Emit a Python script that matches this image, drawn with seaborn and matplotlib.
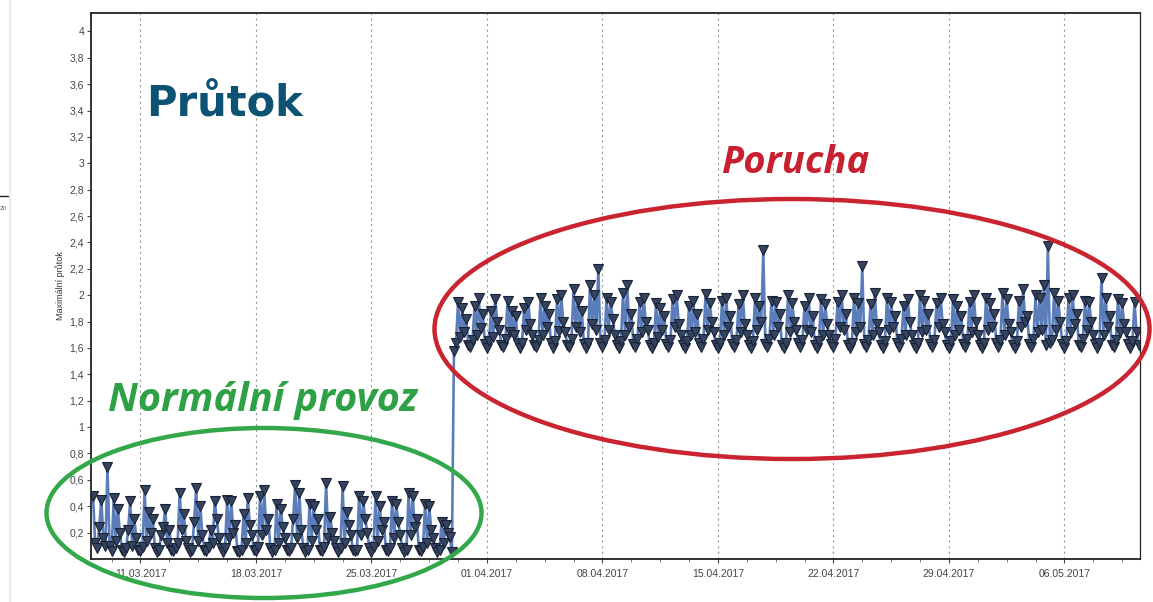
import matplotlib
matplotlib.use("Agg")
import matplotlib.pyplot as plt
import matplotlib.dates as mdates
from matplotlib.patches import Ellipse
from matplotlib.ticker import FuncFormatter, FixedLocator
import numpy as np
import pandas as pd
import seaborn as sns

# ---------------- data (3-hour samples) ----------------
normal_start = "2017-03-08 03:00"
normal_flow = [
    0.48, 0.12, 0.08, 0.24, 0.45, 0.16, 0.10,
    0.70, 0.10, 0.06, 0.46, 0.14, 0.38, 0.20, 0.07,
    0.05, 0.08, 0.22, 0.44, 0.10, 0.30, 0.16, 0.07,
    0.06, 0.09, 0.52, 0.14, 0.36, 0.20, 0.30, 0.08,
    0.05, 0.07, 0.18, 0.24, 0.38, 0.12, 0.22, 0.07,
    0.06, 0.08, 0.12, 0.50, 0.22, 0.34, 0.14, 0.08,
    0.05, 0.07, 0.28, 0.54, 0.14, 0.40, 0.18, 0.07,
    0.06, 0.09, 0.22, 0.12, 0.44, 0.30, 0.16, 0.08,
    0.05, 0.08, 0.45, 0.16, 0.44, 0.20, 0.26, 0.06,
    0.05, 0.07, 0.34, 0.12, 0.46, 0.26, 0.18, 0.07,
    0.06, 0.09, 0.48, 0.18, 0.52, 0.22, 0.30, 0.08,
    0.05, 0.07, 0.42, 0.12, 0.38, 0.24, 0.16, 0.07,
    0.06, 0.08, 0.30, 0.56, 0.16, 0.50, 0.22, 0.08,
    0.05, 0.07, 0.42, 0.14, 0.40, 0.22, 0.30, 0.07,
    0.06, 0.09, 0.58, 0.16, 0.32, 0.20, 0.14, 0.08,
    0.05, 0.08, 0.55, 0.12, 0.36, 0.26, 0.18, 0.07,
    0.06, 0.07, 0.48, 0.18, 0.44, 0.30, 0.20, 0.08,
    0.05, 0.09, 0.48, 0.14, 0.40, 0.22, 0.28, 0.07,
    0.06, 0.08, 0.44, 0.16, 0.42, 0.28, 0.18, 0.08,
    0.05, 0.07, 0.50, 0.18, 0.48, 0.24, 0.30, 0.07,
    0.06, 0.09, 0.42, 0.12, 0.40, 0.22, 0.16, 0.08,
    0.05, 0.07, 0.28, 0.12, 0.26, 0.20, 0.17, 0.05,
]

fault_start = "2017-03-30 00:00"
fault_flow = [
    1.58, 1.64, 1.95, 1.68, 1.90, 1.72, 1.82, 1.62,
    1.61, 1.66, 1.92, 1.70, 1.98, 1.75, 1.86, 1.63,
    1.60, 1.65, 1.88, 1.68, 1.97, 1.80, 1.74, 1.62,
    1.61, 1.67, 1.96, 1.72, 1.88, 1.70, 1.84, 1.63,
    1.60, 1.64, 1.90, 1.74, 1.95, 1.78, 1.70, 1.62,
    1.61, 1.66, 1.98, 1.70, 1.92, 1.76, 1.86, 1.64,
    1.60, 1.65, 1.97, 1.73, 2.00, 1.80, 1.72, 1.62,
    1.61, 1.67, 2.05, 1.76, 1.96, 1.72, 1.88, 1.63,
    1.60, 1.64, 2.08, 1.78, 2.00, 1.74, 2.20, 1.64,
    1.61, 1.66, 1.98, 1.74, 1.95, 1.82, 1.70, 1.62,
    1.60, 1.65, 2.02, 1.70, 2.08, 1.76, 1.86, 1.63,
    1.61, 1.67, 1.95, 1.72, 1.98, 1.80, 1.74, 1.62,
    1.60, 1.64, 1.94, 1.68, 1.90, 1.74, 1.84, 1.63,
    1.61, 1.66, 1.97, 1.76, 2.00, 1.78, 1.70, 1.62,
    1.60, 1.65, 1.92, 1.70, 1.96, 1.72, 1.86, 1.64,
    1.61, 1.67, 2.01, 1.74, 1.94, 1.80, 1.72, 1.62,
    1.60, 1.64, 1.96, 1.70, 1.98, 1.76, 1.84, 1.63,
    1.61, 1.66, 1.93, 1.72, 2.00, 1.78, 1.70, 1.62,
    1.60, 1.65, 1.98, 1.74, 1.92, 1.80, 2.34, 1.63,
    1.61, 1.67, 1.96, 1.70, 1.95, 1.76, 1.86, 1.62,
    1.60, 1.64, 2.00, 1.72, 1.94, 1.80, 1.74, 1.64,
    1.61, 1.66, 1.92, 1.74, 1.98, 1.72, 1.84, 1.62,
    1.60, 1.65, 1.97, 1.70, 1.93, 1.78, 1.70, 1.63,
    1.61, 1.67, 1.95, 1.76, 2.00, 1.74, 1.86, 1.62,
    1.60, 1.64, 1.98, 1.72, 1.94, 1.76, 2.22, 1.63,
    1.61, 1.66, 1.93, 1.70, 2.02, 1.78, 1.72, 1.62,
    1.60, 1.65, 1.98, 1.74, 1.95, 1.76, 1.84, 1.64,
    1.61, 1.67, 1.92, 1.70, 1.97, 1.80, 1.70, 1.62,
    1.60, 1.64, 2.00, 1.72, 1.96, 1.74, 1.86, 1.63,
    1.61, 1.66, 1.94, 1.76, 1.98, 1.78, 1.72, 1.62,
    1.60, 1.65, 1.97, 1.70, 1.92, 1.74, 1.84, 1.63,
    1.61, 1.67, 1.95, 1.72, 2.00, 1.80, 1.70, 1.62,
    1.60, 1.64, 1.98, 1.74, 1.94, 1.76, 1.86, 1.64,
    1.61, 1.66, 2.02, 1.70, 1.97, 1.78, 1.72, 1.62,
    1.60, 1.65, 1.96, 1.76, 2.05, 1.80, 1.84, 1.63,
    1.61, 1.67, 2.00, 1.72, 1.98, 1.74, 2.08, 1.62,
    2.37, 1.64, 1.66, 2.02, 1.74, 1.96, 1.80, 1.63,
    1.60, 1.65, 1.98, 1.72, 2.00, 1.78, 1.86, 1.62,
    1.61, 1.67, 1.96, 1.74, 1.95, 1.80, 1.70, 1.63,
    1.60, 1.64, 2.13, 1.70, 1.98, 1.76, 1.84, 1.62,
    1.61, 1.66, 1.97, 1.72, 1.94, 1.78, 1.72, 1.63,
    1.60, 1.65, 1.95, 1.72, 1.62,
]

y_ticks = [0.2, 0.4, 0.6, 0.8, 1.0, 1.2, 1.4, 1.6, 1.8, 2.0,
           2.2, 2.4, 2.6, 2.8, 3.0, 3.2, 3.4, 3.6, 3.8, 4.0]
x_ticks = ["2017-03-11", "2017-03-18", "2017-03-25", "2017-04-01", "2017-04-08",
           "2017-04-15", "2017-04-22", "2017-04-29", "2017-05-06"]
y_label = "Maximální průtok"
title_text = "Průtok"
fault_text = "Porucha"
normal_text = "Normální provoz"

# ---------------- build frame ----------------
t_normal = pd.date_range(normal_start, periods=len(normal_flow), freq="3h")
t_fault = pd.date_range(fault_start, periods=len(fault_flow), freq="3h")
df = pd.DataFrame({
    "time": list(t_normal) + list(t_fault),
    "flow": normal_flow + fault_flow,
})

sns.set_theme(style="white")
plt.rcParams["font.family"] = ["Liberation Sans", "DejaVu Sans"]

W, H = 1153, 602
fig = plt.figure(figsize=(W / 100, H / 100), dpi=100)
fig.patch.set_facecolor("white")

ax = fig.add_axes([91 / W, (H - 559) / H, (1140 - 91) / W, (559 - 13) / H])

sns.lineplot(data=df, x="time", y="flow", ax=ax, estimator=None, sort=True,
             color="#5b7dba", lw=1.9, marker="v", markersize=7,
             markerfacecolor="#34435f", markeredgecolor="#1a2236",
             markeredgewidth=0.8)

ax.set_xlim(pd.Timestamp("2017-03-08 00:00"), pd.Timestamp("2017-05-10 14:00"))
ax.set_ylim(0, 4.14)

ax.yaxis.set_major_locator(FixedLocator(y_ticks))
ax.yaxis.set_major_formatter(FuncFormatter(
    lambda v, p: (f"{v:.1f}".rstrip("0").rstrip(".")).replace(".", ",")))
xt = [mdates.date2num(pd.Timestamp(d)) for d in x_ticks]
ax.xaxis.set_major_locator(FixedLocator(xt))
ax.xaxis.set_major_formatter(mdates.DateFormatter("%d.%m.%Y"))
minor = np.arange(xt[0] - 7, xt[-1] + 7, 1.75)
ax.xaxis.set_minor_locator(FixedLocator(minor))

ax.tick_params(axis="y", which="major", direction="out", length=3, width=0.8,
               labelsize=7.5, colors="#444444", left=True, pad=2)
ax.tick_params(axis="x", which="major", direction="out", length=3, width=0.8,
               labelsize=7.5, colors="#444444", bottom=True, pad=4)
ax.tick_params(axis="x", which="minor", direction="out", length=2, width=0.6,
               colors="#666666", bottom=True)
ax.grid(False)
ax.xaxis.grid(True, which="major", color="#9a9a9a", linestyle=(0, (2, 3)), lw=0.8)

for s in ax.spines.values():
    s.set_color("#222222")
    s.set_linewidth(1.3)
ax.spines["right"].set_linewidth(0.9)

ax.set_xlabel("")
ax.set_ylabel(y_label, fontsize=6.5, color="#333333", labelpad=3)

# ---------------- overlay (annotations in pixel space) ----------------
ov = fig.add_axes([0, 0, 1, 1], zorder=10)
ov.set_xlim(0, W)
ov.set_ylim(H, 0)
ov.axis("off")
ov.patch.set_alpha(0)

ov.text(146, 115, title_text, fontsize=30, fontweight="bold", color="#0b5273",
        va="baseline", ha="left", family="DejaVu Sans")
ov.text(721, 173, fault_text, fontsize=27.5, fontweight="bold", fontstyle="italic",
        color="#c7202f", va="baseline", ha="left", family=["Open Sans", "DejaVu Sans"])
ov.text(108, 411, normal_text, fontsize=28.5, fontweight="bold", fontstyle="italic",
        color="#2ea146", va="baseline", ha="left", family=["Open Sans", "DejaVu Sans"])

ov.add_patch(Ellipse((792, 329), 715, 260, fill=False, edgecolor="#c9242f", lw=3.2))
ov.add_patch(Ellipse((264, 513), 435, 170, fill=False, edgecolor="#33a84a", lw=3.2))

# small slide-edge remnant at the far left
ov.plot([0, 8], [196, 196], color="#222222", lw=1.0)
ov.text(0, 209, "20", fontsize=4.5, color="#555555", va="center", ha="left")
ov.plot([10, 10], [0, 602], color="#e6ecef", lw=1.5)

fig.savefig("out.png", dpi=100, facecolor="white")
